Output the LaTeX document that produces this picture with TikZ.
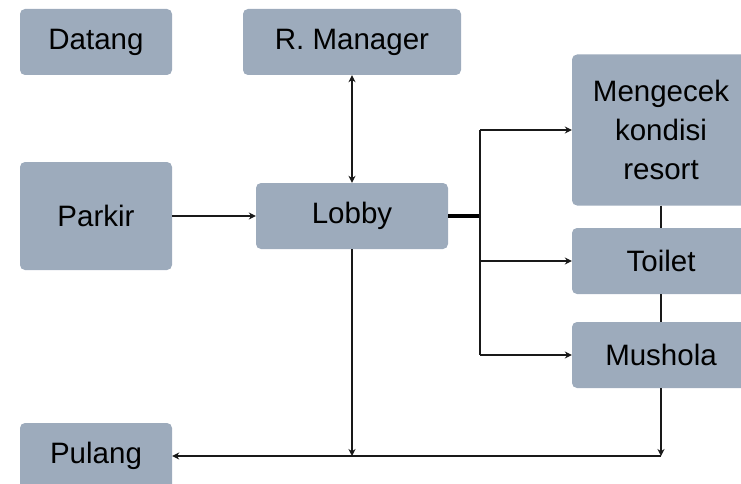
\documentclass[tikz,border=0pt]{standalone}
\usepackage{fontspec}
\setmainfont{Liberation Sans}
\usetikzlibrary{arrows.meta, positioning}

\definecolor{boxgray}{RGB}{157,171,188}

\begin{document}
\begin{tikzpicture}[>={Stealth[length=7pt,width=7pt]}, x=1pt, y=-1pt,
    box/.style={fill=boxgray, rounded corners=5pt, align=center, inner sep=0pt,
      font=\fontsize{29.5}{39}\selectfont},
    link/.style={line width=2pt, black!90}]
  \useasboundingbox (0,0) rectangle (741,484);

  % Left column
  \node[box, minimum width=152, minimum height=66] (datang) at (96,42) {Datang};
  \node[box, minimum width=152, minimum height=108] (parkir) at (96,216) {Parkir};
  \node[box, minimum width=152, minimum height=66] (pulang) at (96,456) {Pulang};

  % Middle column
  \node[box, minimum width=218, minimum height=66] (manager) at (352,42) {R. Manager};
  \node[box, minimum width=192, minimum height=66] (lobby) at (352,216) {Lobby};

  % Right column
  \node[box, minimum width=178, minimum height=151] (cek) at (661,130)
    {Mengecek\\kondisi\\resort};
  \node[box, minimum width=178, minimum height=66] (toilet) at (661,261) {Toilet};
  \node[box, minimum width=178, minimum height=66] (mushola) at (661,355) {Mushola};

  % Junction points
  \coordinate (split) at (480,216);
  \coordinate (splittop) at (480,130);
  \coordinate (splitbot) at (480,355);
  \coordinate (join) at (661,456);
  \coordinate (drop) at (352,456);

  % Arrows
  \draw[link, <->] (manager.south) -- (lobby.north);
  \draw[link, ->] (parkir.east) -- (parkir.east -| lobby.west);
  \draw[line width=4.5pt] (lobby.east) -- (split);
  \draw[link] (splittop) -- (splitbot);
  \foreach \t in {cek, toilet, mushola}
    \draw[link, ->] (splittop |- \t.west) -- (\t.west);
  \draw[link] (cek.south) -- (toilet.north);
  \draw[link] (toilet.south) -- (mushola.north);
  \draw[link, ->] (mushola.south) -- (join);
  \draw[link, ->] (join) -- (pulang.east);
  \draw[link, ->] (lobby.south) -- (drop);
\end{tikzpicture}
\end{document}
